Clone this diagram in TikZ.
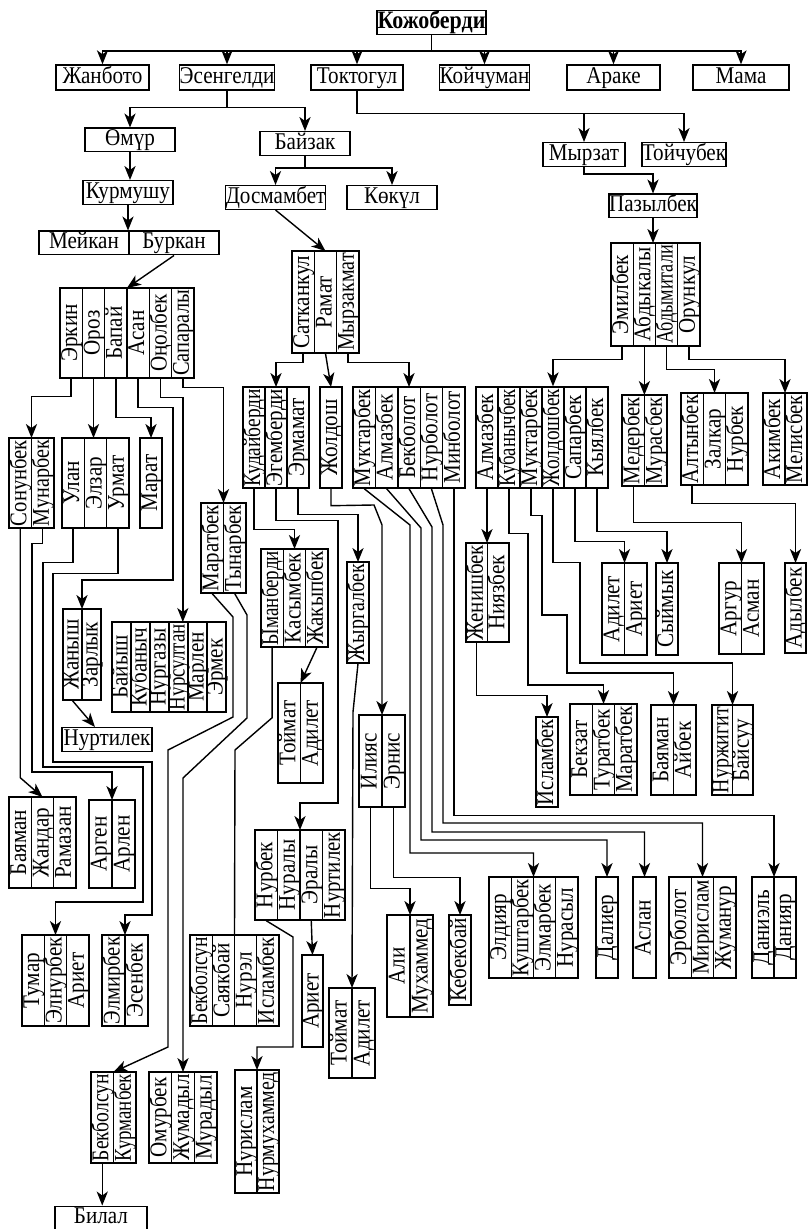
\documentclass[tikz,border=0pt]{standalone}
\usepackage{fontspec}
\setmainfont{Liberation Serif}[FakeStretch=0.88]
\usetikzlibrary{arrows.meta}

% one rotated name, squeezed when it is longer than the cell
\newcommand{\vname}[2]{\sbox0{#1}\pgfmathsetmacro{\kf}{min(1,(#2-2)/\the\wd0)}\rotatebox{90}{\raisebox{-0.25em}[0pt][0pt]{\scalebox{\kf}[1]{#1}}}}
% a row of upright cells: name, left, right, top, bottom, names
\newcommand{\kingroup}[6]{%
  \gdef\kcount{0}%
  \foreach \nm in {#6}{\xdef\kcount{\the\numexpr\kcount+1\relax}}%
  \pgfmathsetmacro{\kw}{(#3-#2)/\kcount}%
  \pgfmathsetmacro{\kh}{(#5-#4)*0.5}%
  \coordinate (#1) at ({(#2+#3)/2},#4);%
  \foreach \nm [count=\i] in {#6}
    \node[cell,minimum width=\kw*0.5pt,minimum height=\kh pt] (#1-\i)
      at ({#2+(\i-0.5)*\kw},{(#4+#5)/2}) {\vname{\nm}{\kh}};%
}

\begin{document}
\begin{tikzpicture}[x=0.5pt,y=-0.5pt,line width=0.7pt,
    font=\fontsize{12}{14}\selectfont,
    person/.style={draw,inner sep=0pt,text height=8.8pt,text depth=3pt,minimum height=11.8pt},
    cell/.style={draw,inner sep=0pt},
    link/.style={-{Stealth[length=7pt,width=5.6pt,inset=2pt]}}]
  \useasboundingbox (0,0) rectangle (808,1229);

  % first generations
  \node[person,minimum width=54.5pt,font=\fontsize{12.5}{14}\selectfont\bfseries] (kozh) at (431.5,22.5) {Кожоберди};
  \node[person,minimum width=46.5pt,minimum height=12.5pt] (zhanb) at (102.5,77.5) {Жанбото};
  \node[person,minimum width=46pt,minimum height=12.5pt] (esen) at (227,77.5) {Эсенгелди};
  \node[person,minimum width=46pt,minimum height=12.5pt] (tokt) at (357,77.5) {Токтогул};
  \node[person,minimum width=44.5pt,minimum height=12.5pt] (koich) at (484.5,77.5) {Койчуман};
  \node[person,minimum width=46.5pt,minimum height=12.5pt] (arake) at (613.5,77.5) {Араке};
  \node[person,minimum width=48pt,minimum height=12.5pt] (mama) at (741,77.5) {Мама};
  \node[person,minimum width=45pt] (omur) at (130,140) {Өмүр};
  \node[person,minimum width=45pt] (baizak) at (305,143.5) {Байзак};
  \node[person,minimum width=41pt] (myrzat) at (584,154.5) {Мырзат};
  \node[person,minimum width=41pt] (toich) at (684,154.5) {Тойчубек};
  \node[person,minimum width=45pt] (kurm) at (128,192.5) {Курмушу};
  \node[person,minimum width=46.5pt] (dosm) at (275.5,197.5) {Досмамбет};
  \node[person,minimum width=45pt] (kokul) at (392,197.5) {Көкүл};
  \node[person,minimum width=41pt] (pazyl) at (653,206) {Пазылбек};
  \node[person,minimum width=45pt] (meikan) at (84,243) {Мейкан};
  \node[person,minimum width=45pt] (burkan) at (174,243) {Буркан};
  \node[person,minimum width=45pt] (nurtil) at (107,739.5) {Нуртилек};
  \node[person,minimum width=46pt] (bilal) at (101,1218) {Билал};

  % upright rows of names
  \kingroup{erkin}{60}{194}{288}{378}{Эркин,Ороз,Бапай,Асан,Оңолбек,Сапаралы}
  \kingroup{satk}{292}{359}{251}{353}{Сатканкул,Рамат,Мырзакмат}
  \kingroup{emil}{611}{700}{243}{346}{Эмилбек,Абдыкалы,Абдымитали,Орункул}
  \kingroup{sonun}{9}{54}{438}{528}{Сонунбек,Мунарбек}
  \kingroup{ulan}{62}{129}{438}{528}{Улан,Элзар,Урмат}
  \kingroup{marat}{140}{162}{438}{528}{Марат}
  \kingroup{maratb}{201}{246}{503}{593}{Маратбек,Тынарбек}
  \kingroup{kudai}{243}{309}{387}{488}{Кудайберди,Эгемберди,Эрмамат}
  \kingroup{zholdosh}{320}{342}{387}{488}{Жолдош}
  \kingroup{mukt}{353}{465}{387}{488}{Муктарбек,Алмазбек,Бекболот,Нурболот,Минболот}
  \kingroup{almaz}{476}{608}{387}{488}{Алмазбек,Кубанычбек,Муктарбек,Жолдошбек,Сапарбек,Кыялбек}
  \kingroup{meder}{622}{667}{395}{486}{Медербек,Мурасбек}
  \kingroup{altyn}{681}{748}{393}{485}{Алтынбек,Залкар,Нурбек}
  \kingroup{akim}{763}{807}{393}{485}{Акимбек,Мелисбек}
  \kingroup{yman}{261}{328}{549}{647}{Ыманберди,Касымбек,Жакыпбек}
  \kingroup{zharg}{347}{369}{562}{663}{Жыргалбек}
  \kingroup{zhanysh}{63}{101}{609}{700}{Жаныш,Зарлык}
  \kingroup{baiysh}{112}{226}{622}{712}{Байыш,Кубаныч,Нургазы,Нурсултан,Марлен,Эрмек}
  \kingroup{toimat}{278}{323}{683}{783}{Тоймат,Адилет}
  \kingroup{iliyas}{359}{405}{715}{807}{Илияс,Эрнис}
  \kingroup{zhenish}{466}{509}{543}{642}{Женишбек,Ниязбек}
  \kingroup{adilet}{602}{647}{563}{655}{Адилет,Ариет}
  \kingroup{syimyk}{656}{678}{563}{655}{Сыймык}
  \kingroup{argur}{719}{764}{563}{654}{Аргур,Асман}
  \kingroup{adyl}{785}{806}{563}{653}{Адылбек}
  \kingroup{islam}{536}{558}{717}{807}{Исламбек}
  \kingroup{bekzat}{570}{637}{704}{795}{Бекзат,Туратбек,Маратбек}
  \kingroup{bayamanb}{651}{696}{705}{795}{Баяман,Айбек}
  \kingroup{nurzh}{712}{753}{705}{795}{Нуржигит,Байсуу}
  \kingroup{bayaman}{9}{76}{797}{888}{Баяман,Жандар,Рамазан}
  \kingroup{argen}{89}{135}{800}{888}{Арген,Арлен}
  \kingroup{nurbek}{255}{345}{830}{920}{Нурбек,Нуралы,Эралы,Нуртилек}
  \kingroup{ali}{387}{433}{915}{1017}{Али,Мухаммед}
  \kingroup{kebek}{449}{471}{915}{1005}{Кебекбай}
  \kingroup{eldiyar}{489}{578}{877}{978}{Элдияр,Куштарбек,Элмарбек,Нурасыл}
  \kingroup{dalier}{596}{618}{877}{978}{Далиер}
  \kingroup{aslan}{633}{656}{877}{978}{Аслан}
  \kingroup{erbolot}{669}{736}{877}{978}{Эрболот,Мирислам,Жуманур}
  \kingroup{daniel}{752}{796}{877}{978}{Даниэль,Данияр}
  \kingroup{tumar}{22}{89}{935}{1026}{Тумар,Элнурбек,Ариет}
  \kingroup{elmir}{102}{148}{935}{1026}{Элмирбек,Эсенбек}
  \kingroup{bekbolb}{190}{279}{935}{1026}{Бекболсун,Саякбай,Нурэл,Исламбек}
  \kingroup{ariet}{302}{323}{955}{1047}{Ариет}
  \kingroup{toimatb}{329}{375}{988}{1078}{Тоймат,Адилет}
  \kingroup{bekbol}{91}{136}{1072}{1163}{Бекболсун,Курманбек}
  \kingroup{omurb}{149}{217}{1072}{1163}{Омурбек,Жумадыл,Мурадыл}
  \kingroup{nurisl}{235}{279}{1070}{1193}{Нурислам,Нурмухаммед}

  % top links
  \draw (kozh.south) -- ++(0,16);
  \foreach \c in {zhanb,esen,tokt,koich,arake,mama}
    \draw[link] (kozh.south) ++(0,16) -| (\c.north);
  \draw (esen.south) -- ++(0,17);
  \foreach \c in {omur,baizak}
    \draw[link] (esen.south) ++(0,17) -| (\c.north);
  \draw (tokt.south) -- ++(0,23);
  \foreach \c in {myrzat,toich}
    \draw[link] (tokt.south) ++(0,23) -| (\c.north);
  \draw (baizak.south) -- ++(0,12);
  \foreach \c in {dosm,kokul}
    \draw[link] (baizak.south) ++(0,12) -| (\c.north);
  \draw[link] (myrzat.south) -- ++(0,7) -| (pazyl.north);
  \draw[link] (omur.south) -- (omur.south |- kurm.north);
  \draw[link] (kurm.south) -- (kurm.south |- meikan.north);
  \draw[link] (burkan.south) -- (erkin);
  \draw[link] (dosm.south) -- (satk);
  \draw[link] (pazyl.south) -- (pazyl.south |- emil);

  % left branch
  \draw[link] (erkin-1.south) -- ++(0,18) -| (sonun);
  \draw[link] (erkin-2.south) -- (erkin-2.south |- ulan);
  \draw[link] (erkin-3.south) -- ++(0,39) -| (marat);
  \draw[link] (erkin-4.south) -- ++(0,29) -| (173,580) -| (zhanysh);
  \draw[link] (erkin-5.south) -- ++(0,19) -| (erkin-6.south |- baiysh);
  \draw[link] (erkin-6.south) -- ++(0,9) -| (maratb);
  \draw[link] (sonun-1.south) -- ++(0,249) -- (bayaman);
  \draw[link] (sonun-2.south) -- ++(0,15) -| (32,772) -| (argen);
  \draw[link] (ulan-1.south) -- ++(0,34) -| (43,767) -| (143,902) -| (tumar);
  \draw[link] (ulan-3.south) -- ++(0,45) -| (53,762) -| (152,915) -| (elmir);
  \draw[link] (zhanysh-1.south) -- ([xshift=-6pt]nurtil.north);
  \draw[link] (maratb-1.south) -- (233,617) -- (233,717) -- (168,750) -- (168,1047) -- (bekbol);
  \draw[link] (maratb-2.south) -- (247,615) -- (247,718) -- (183,778) -- (omurb);
  \draw[link] (bekbol-1.south) -- (bekbol-1.south |- bilal.north);

  % middle branch
  \draw[link] (satk-1.south) -- ++(0,9) -| (kudai);
  \draw[link] (satk-2.south) -- (zholdosh);
  \draw[link] (satk-3.south) -- ++(0,9) -| (mukt);
  \draw[link] (kudai-1.south) -- ++(0,41) -| (yman);
  \draw[link] (kudai-2.south) -- ++(0,32) -| (338,803) -| (nurbek);
  \draw[link] (kudai-3.south) -- ++(0,26) -| (zharg);
  \draw[link] (zholdosh-1.south) -- ++(0,17) -- (374,505) -- (382,525) -- (iliyas);
  \draw[link] (mukt-1.south) -- (410,525) -- (410,853) -| (eldiyar);
  \draw[link] (mukt-2.south) -- (421,528) -- (421,840) -| (dalier);
  \draw[link] (mukt-3.south) -- (432,527) -- (432,832) -| (aslan);
  \draw[link] (mukt-4.south) -- (443,525) -- (443,823) -| (erbolot);
  \draw[link] (mukt-5.south) -- ++(0,327) -| (daniel);
  \draw (yman-1.south) -- ++(0,70) -- (235,750) -- (bekbolb);
  \draw[link] (yman-3.south) -- (toimat);
  \draw[link] (zharg-1.south) -- (353,712) -- (toimatb);
  \draw[link] (iliyas-1.south) -- ++(0,81) -| (ali);
  \draw[link] (iliyas-2.south) -- ++(0,70) -| (kebek);
  \draw[link] (nurbek-1.south) -- (293,937) -- (293,1047) -| (nurisl);
  \draw[link] (nurbek-3.south) -- (ariet);

  % right branch
  \draw[link] (emil-1.south) -- ++(0,13) -| (almaz-4.north);
  \draw[link] (emil-2.south) -- (emil-2.south |- meder);
  \draw[link] (emil-3.south) -- ++(0,23) -| (altyn);
  \draw[link] (emil-4.south) -- ++(0,13) -| (akim);
  \draw[link] (almaz-1.south) -- (almaz-1.south |- zhenish);
  \draw[link] (almaz-2.south) -- ++(0,45) -| (528,685) -| (bekzat);
  \draw[link] (almaz-3.south) -- ++(0,27) -| (542,615) -| (567,673) -| (bayamanb);
  \draw[link] (almaz-4.south) -- ++(0,74) -| (580,663) -| (nurzh);
  \draw[link] (almaz-5.south) -- ++(0,53) -| (adilet);
  \draw[link] (almaz-6.south) -- ++(0,43) -| (syimyk);
  \draw[link] (meder-1.south) -- ++(0,36) -| (argur);
  \draw[link] (altyn-1.south) -- ++(0,18) -| (adyl);
  \draw[link] (zhenish-1.south) -- ++(0,53) -| (islam);
\end{tikzpicture}
\end{document}
